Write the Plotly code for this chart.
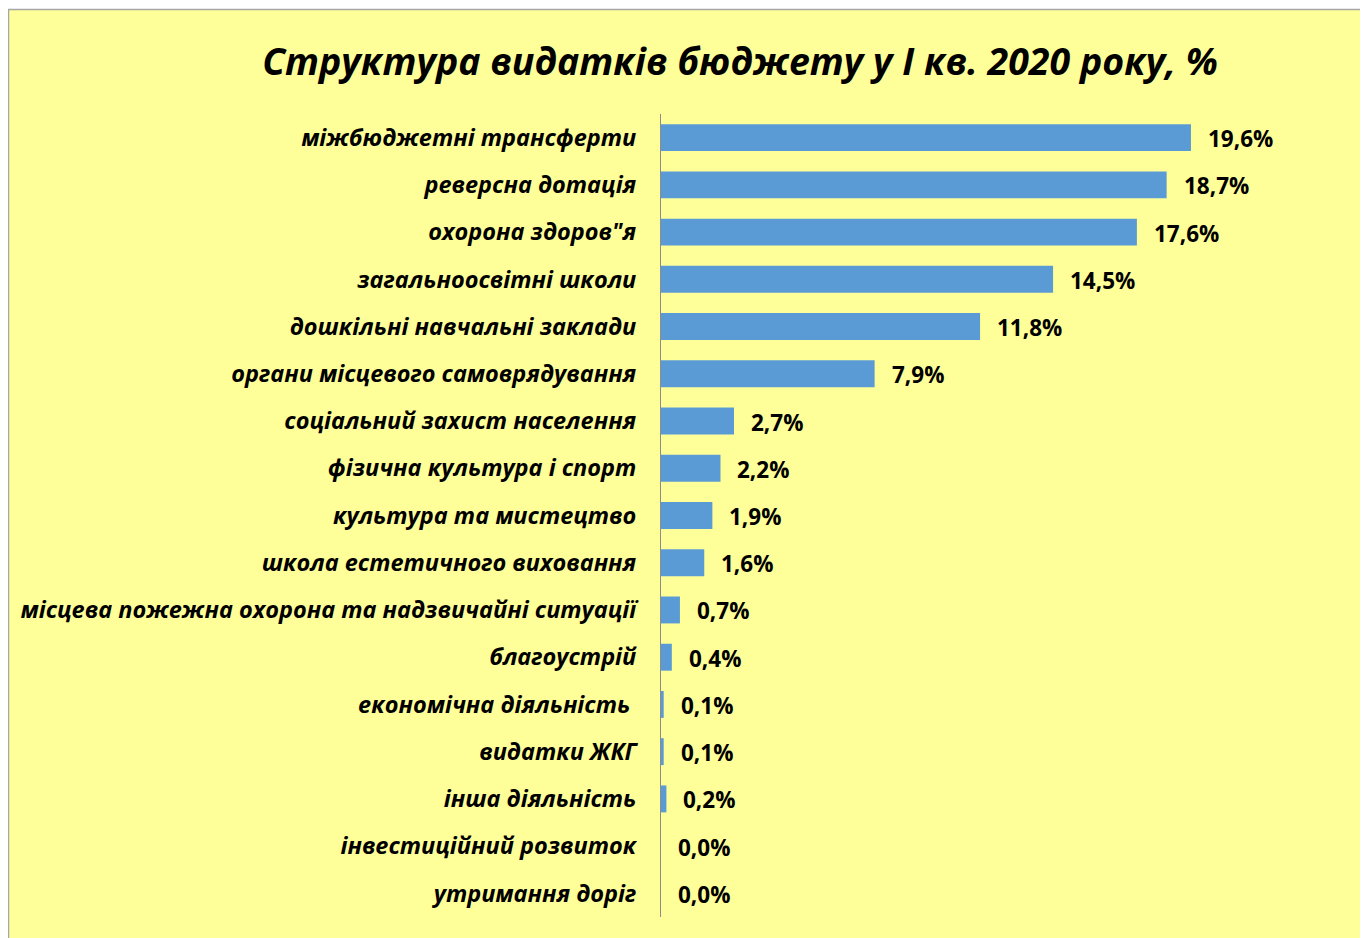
import plotly.graph_objects as go

categories = [
    "міжбюджетні трансферти",
    "реверсна дотація",
    "охорона здоров\"я",
    "загальноосвітні школи",
    "дошкільні навчальні заклади",
    "органи місцевого самоврядування",
    "соціальний захист населення",
    "фізична культура і спорт",
    "культура та мистецтво",
    "школа естетичного виховання",
    "місцева пожежна охорона та надзвичайні ситуації",
    "благоустрій",
    "економічна діяльність\u00a0",
    "видатки ЖКГ",
    "інша діяльність",
    "інвестиційний розвиток",
    "утримання доріг",
]
values = [19.6, 18.7, 17.6, 14.5, 11.8, 7.9, 2.7, 2.2, 1.9, 1.6, 0.7, 0.4, 0.1, 0.1, 0.2, 0.0, 0.0]
title_text = "Структура видатків бюджету у І кв. 2020 року, %"

OFF = 8  # page body margin
W, H = 1368 - OFF, 938 - OFF
L, R, T, B = 661 - OFF, 1340 - OFF, 114 - OFF, 917 - OFF

fig = go.Figure(go.Bar(
    x=values, y=categories, orientation="h",
    marker=dict(color="#5B9BD5", line=dict(width=0)),
    hoverinfo="skip",
))

for c, v in zip(categories, values):
    fig.add_annotation(
        x=v, y=c, xref="x", yref="y", xanchor="left", yanchor="middle",
        xshift=15, yshift=-1, showarrow=False,
        text=f"{v:.1f}%".replace(".", ","),
        font=dict(family="Open Sans", size=22.5, color="black", weight="bold"),
    )

def px_x(p):
    return (p - OFF - L) / (R - L)

def px_y(p):
    return (B - (p - OFF)) / (B - T)

fig.add_shape(type="rect", xref="paper", yref="paper",
              x0=px_x(8.5), x1=px_x(1362), y0=px_y(950), y1=px_y(9.5),
              fillcolor="#FFFF99", line=dict(color="#A6A6A6", width=1.5), layer="below")

fig.update_layout(
    width=W, height=H,
    margin=dict(l=L, r=W - R, t=T, b=H - B),
    paper_bgcolor="white", plot_bgcolor="rgba(0,0,0,0)",
    showlegend=False, bargap=0.43,
    title=dict(text=f"<i><b>{title_text}</b></i>", x=(740 - OFF) / W, xanchor="center",
               y=1 - (62 - OFF) / H, yanchor="middle", xref="container", yref="container",
               font=dict(family="Open Sans", size=37.5, color="black")),
    xaxis=dict(range=[0, (R - L) / 27.04], visible=False, fixedrange=True),
    yaxis=dict(autorange="reversed", showline=True, linecolor="#8C8C8C", linewidth=1,
               showgrid=False, ticks="", ticklabelstandoff=19,
               tickfont=dict(family="Open Sans", size=23.5, color="black", weight="bold", style="italic")),
)

fig.write_html("out.html")
